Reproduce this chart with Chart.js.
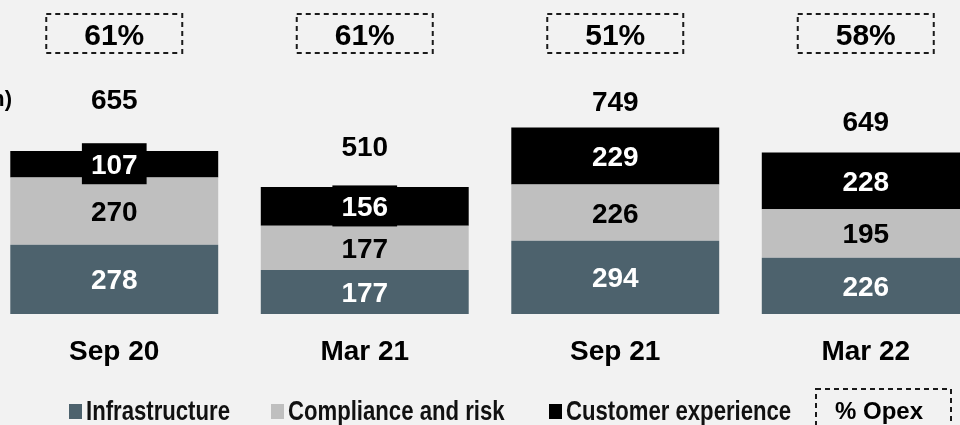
<!DOCTYPE html>
<html>
<head>
<meta charset="utf-8">
<script src="https://cdn.jsdelivr.net/npm/chart.js"></script>
<style>
  html, body { margin: 0; padding: 0; background: #f2f2f2; overflow: hidden; width: 960px; height: 425px; }
  #wrap { position: absolute; left: -11px; top: 0; width: 1002px; height: 425px; }
</style>
</head>
<body>
<div id="wrap"><canvas id="chart"></canvas></div>
<script>
const periods = ['Sep 20', 'Mar 21', 'Sep 21', 'Mar 22'];
const infrastructure = [278, 177, 294, 226];
const compliance = [270, 177, 226, 195];
const customerExperience = [107, 156, 229, 228];
const totals = [655, 510, 749, 649];
const opexShare = ['61%', '61%', '51%', '58%'];
const legendLabels = ['Infrastructure', 'Compliance and risk', 'Customer experience'];

const FONT = '"Liberation Sans", Arial, Helvetica, sans-serif';
const SHIFT = 11; // canvas starts 11px left of the page
const STEEL = '#4d626d';
const GREY = '#bfbfbf';

function dashedBox(ctx, x, y, w, h) {
  ctx.save();
  ctx.strokeStyle = '#1a1a1a';
  ctx.lineWidth = 2;
  ctx.setLineDash([5, 4]);
  ctx.strokeRect(x, y, w, h);
  ctx.restore();
}

// value labels, totals, % opex boxes, period labels, legend
const annotate = {
  id: 'annotate',
  afterDatasetsDraw(chart, args, opts) {
    const ctx = chart.ctx;
    ctx.save();
    ctx.textAlign = 'center';
    ctx.textBaseline = 'alphabetic';

    // segment values
    ctx.font = 'bold 28px ' + FONT;
    chart.data.datasets.forEach((ds, di) => {
      chart.getDatasetMeta(di).data.forEach((bar, i) => {
        const cy = (bar.y + bar.base) / 2;
        const txt = String(ds.data[i]);
        if (ds.labelBox) {
          const w = ctx.measureText(txt).width + 18;
          ctx.fillStyle = ds.labelBox;
          ctx.fillRect(bar.x - w / 2, cy - 21, w, 41);
        }
        ctx.fillStyle = ds.labelColor;
        ctx.fillText(txt, bar.x, cy + 10);
      });
    });

    const topMeta = chart.getDatasetMeta(chart.data.datasets.length - 1);
    topMeta.data.forEach((bar, i) => {
      // totals above bars
      ctx.font = 'bold 28px ' + FONT;
      ctx.fillStyle = '#000';
      ctx.fillText(String(totals[i]), bar.x, bar.y - opts.totalLift[i] + 10);

      // % opex boxes
      dashedBox(ctx, bar.x - 68, 14, 136, 39);
      ctx.font = 'bold 30px ' + FONT;
      ctx.fillText(opexShare[i], bar.x, 34 + 11);

      // period labels
      ctx.font = 'bold 28px ' + FONT;
      ctx.fillText(periods[i], bar.x, 350 + 10);
    });

    // page-fixed items
    ctx.translate(SHIFT, 0);

    ctx.textAlign = 'right';
    ctx.font = 'bold 22px ' + FONT;
    ctx.fillText('(£m)', 12, 106);

    // legend
    ctx.textAlign = 'left';
    ctx.font = 'bold 27px ' + FONT;
    chart.data.datasets.forEach((ds, di) => {
      const tx = opts.legendX[di];
      ctx.fillStyle = ds.backgroundColor;
      ctx.fillRect(tx - 17, 404, 13, 15);
      ctx.save();
      ctx.translate(tx, 420);
      ctx.scale(0.82, 1);
      ctx.fillStyle = '#111';
      ctx.fillText(legendLabels[di], 0, 0);
      ctx.restore();
    });

    dashedBox(ctx, 816, 389, 135, 50);
    ctx.textAlign = 'center';
    ctx.fillStyle = '#000';
    ctx.font = 'bold 24px ' + FONT;
    ctx.fillText('% Opex', 879, 419);

    ctx.restore();
  }
};

new Chart(document.getElementById('chart'), {
  type: 'bar',
  data: {
    labels: periods,
    datasets: [
      { label: legendLabels[0], data: infrastructure, backgroundColor: STEEL, labelColor: '#fff' },
      { label: legendLabels[1], data: compliance, backgroundColor: GREY, labelColor: '#000' },
      { label: legendLabels[2], data: customerExperience, backgroundColor: '#000', labelColor: '#fff', labelBox: '#000' },
    ],
  },
  options: {
    responsive: true,
    maintainAspectRatio: false,
    animation: false,
    layout: { padding: { top: 65, bottom: 111, left: 0, right: 0 } },
    datasets: {
      bar: { categoryPercentage: 1, barPercentage: 0.83, borderWidth: 0 },
    },
    plugins: {
      legend: { display: false },
      tooltip: { enabled: false },
      annotate: { totalLift: [52, 41, 26, 31], legendX: [86, 288, 566] },
    },
    scales: {
      x: { stacked: true, display: false },
      y: { stacked: true, display: false, min: 0, max: 1000 },
    },
  },
  plugins: [annotate],
});
</script>
</body>
</html>
